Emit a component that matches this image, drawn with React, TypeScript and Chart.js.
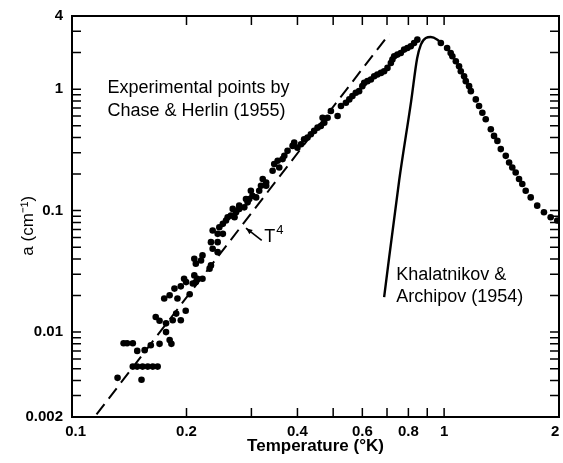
import React, { useEffect, useRef } from "react";
import { Chart, registerables } from "chart.js";

Chart.register(...registerables);

// Experimental points by Chase & Herlin (1955): temperature (°K) and attenuation (cm^-1)
const expT = [
  0.130, 0.151, 0.143, 0.147, 0.152, 0.157, 0.162, 0.167, 0.135, 0.138, 0.143,
  0.147, 0.154, 0.160, 0.169, 0.180, 0.182, 0.176, 0.176, 0.165, 0.169, 0.1875,
  0.1835, 0.193, 0.199, 0.174, 0.180, 0.1855, 0.193, 0.189, 0.204, 0.1995, 0.208,
  0.212, 0.197, 0.210, 0.214, 0.212, 0.219, 0.221, 0.210, 0.221, 0.231, 0.233,
  0.2355, 0.243, 0.233, 0.243, 0.2355, 0.243, 0.251, 0.2455, 0.251, 0.256, 0.2586,
  0.264, 0.270, 0.2726, 0.278, 0.287, 0.293, 0.296, 0.302, 0.309, 0.315, 0.3185,
  0.329, 0.267, 0.278, 0.290, 0.299, 0.322, 0.329, 0.3425, 0.346, 0.3535, 0.357,
  0.3646, 0.3685, 0.376, 0.388, 0.392, 0.400, 0.409, 0.417, 0.426, 0.435, 0.444,
  0.4535, 0.463, 0.473, 0.483, 0.468, 0.493, 0.514, 0.525, 0.5415, 0.553, 0.564,
  0.576, 0.588, 0.600, 0.607, 0.6195, 0.633, 0.646, 0.659, 0.674, 0.6875, 0.702,
  0.717, 0.724, 0.732, 0.747, 0.763, 0.779, 0.795, 0.812, 0.829, 0.846,
  0.980, 1.019, 1.042, 1.053, 1.076, 1.098, 1.110, 1.133, 1.145, 1.169, 1.182,
  1.219, 1.244, 1.270, 1.297, 1.339, 1.366, 1.395, 1.425, 1.470, 1.501, 1.531,
  1.564, 1.597, 1.630, 1.665, 1.718, 1.789, 1.866, 1.946, 2.028,
];
const expA = [
  0.0042, 0.00405, 0.0052, 0.0052, 0.0052, 0.0052, 0.0052, 0.0052, 0.0081, 0.0081, 0.0081,
  0.0070, 0.0071, 0.0078, 0.0080, 0.0086, 0.0080, 0.0100, 0.0118, 0.0133, 0.0124, 0.0142,
  0.0125, 0.0125, 0.0150, 0.0189, 0.0201, 0.0228, 0.0238, 0.0189, 0.0205, 0.0258, 0.0251,
  0.0258, 0.0275, 0.0293, 0.0275, 0.0366, 0.0389, 0.0428, 0.0402, 0.0275, 0.0333, 0.0354,
  0.0485, 0.0455, 0.055, 0.055, 0.0685, 0.0644, 0.0644, 0.0729, 0.0778, 0.0828, 0.0881,
  0.091, 0.0881, 0.0969, 0.1033, 0.1064, 0.117, 0.1247, 0.1327, 0.1285, 0.1459, 0.1603,
  0.1706, 0.1033, 0.1099, 0.1247, 0.1459, 0.182, 0.1603, 0.2128, 0.2415, 0.257, 0.2265,
  0.2654, 0.2825, 0.3104, 0.341, 0.363, 0.330, 0.352, 0.387, 0.399, 0.425, 0.453,
  0.482, 0.497, 0.530, 0.582, 0.582, 0.660, 0.601, 0.726, 0.772, 0.823, 0.876,
  0.933, 0.963, 1.058, 1.126, 1.163, 1.201, 1.278, 1.320, 1.360, 1.404, 1.495,
  1.643, 1.752, 1.865, 1.925, 1.984, 2.115, 2.181, 2.252, 2.396, 2.555,
  2.396, 2.181, 1.984, 1.865, 1.696, 1.543, 1.404, 1.278, 1.163, 1.058, 0.963,
  0.823, 0.726, 0.639, 0.565, 0.468, 0.412, 0.375, 0.321, 0.2825, 0.249, 0.2265,
  0.206, 0.182, 0.1656, 0.1459, 0.1285, 0.1099, 0.0969, 0.0881, 0.0828,
];

// Khalatnikov & Archipov (1954) theory curve
const theoryT = [0.6875, 0.755, 0.814, 0.845, 0.865, 0.892, 0.920, 0.959, 0.988];
const theoryA = [0.0194, 0.176, 0.797, 1.795, 2.325, 2.634, 2.684, 2.555, 2.36];

// T^4 dashed line end points
const t4T = [0.114, 0.71];
const t4A = [0.0021, 2.85];

// Axis ranges and ticks
const xRange = [0.0978, 2.05];
const yRange = [0.002, 4];
const xLabelValues = [0.1, 0.2, 0.4, 0.6, 0.8, 1, 2];
const yLabelValues = [0.002, 0.01, 0.1, 1, 4];
const xMarkValues = [0.2, 0.3, 0.4, 0.5, 0.6, 0.7, 0.8, 0.9, 1];
const yMarkValues = [
  0.003, 0.004, 0.005, 0.006, 0.007, 0.008, 0.009, 0.01,
  0.02, 0.03, 0.04, 0.05, 0.06, 0.07, 0.08, 0.09, 0.1,
  0.2, 0.3, 0.4, 0.5, 0.6, 0.7, 0.8, 0.9, 1, 2, 3,
];
const yTitle = "a (cm⁻¹)";
const yTitleAt = 0.075; // value on the y axis where the title is centred
const xTitle = "Temperature (°K)";

// Annotation anchors (data coordinates)
const noteExp = { t: 0.122, lines: ["Experimental points by", "Chase & Herlin (1955)"], a: [1.03, 0.66] };
const noteTheory = { t: 0.741, lines: ["Khalatnikov &", "Archipov (1954)"], a: [0.0293, 0.0194] };
const noteT4 = { t: 0.325, a: 0.0601, tipT: 0.290, tipA: 0.0716, tailT: 0.320, tailA: 0.0568 };

const FONT = '"Liberation Sans", Arial, sans-serif';

const framePlugin = {
  id: "frameAndNotes",
  afterDraw(chart: any) {
    const { ctx, chartArea } = chart;
    const xs = chart.scales.x;
    const ys = chart.scales.y;
    const { left, right, top, bottom } = chartArea;
    ctx.save();
    ctx.strokeStyle = "#000";
    ctx.lineWidth = 2;
    ctx.strokeRect(left, top, right - left, bottom - top);
    ctx.lineWidth = 1.5;
    const len = 9;
    ctx.beginPath();
    xMarkValues.forEach((v) => {
      const px = xs.getPixelForValue(v);
      ctx.moveTo(px, bottom);
      ctx.lineTo(px, bottom - len);
      ctx.moveTo(px, top);
      ctx.lineTo(px, top + len);
    });
    yMarkValues.forEach((v) => {
      const py = ys.getPixelForValue(v);
      ctx.moveTo(left, py);
      ctx.lineTo(left + len, py);
      ctx.moveTo(right, py);
      ctx.lineTo(right - len, py);
    });
    ctx.stroke();

    ctx.fillStyle = "#000";
    // y axis title (rotated)
    ctx.save();
    ctx.translate(28, ys.getPixelForValue(yTitleAt));
    ctx.rotate(-Math.PI / 2);
    ctx.textAlign = "center";
    ctx.textBaseline = "middle";
    ctx.font = `17px ${FONT}`;
    ctx.fillText(yTitle, 0, 0);
    ctx.restore();

    // text notes
    ctx.textAlign = "left";
    ctx.textBaseline = "middle";
    ctx.font = `18px ${FONT}`;
    [noteExp, noteTheory].forEach((n) => {
      const px = xs.getPixelForValue(n.t);
      n.lines.forEach((line, i) => {
        ctx.fillText(line, px, ys.getPixelForValue(n.a[i]));
      });
    });
    // T^4 label
    const tx = xs.getPixelForValue(noteT4.t);
    const ty = ys.getPixelForValue(noteT4.a);
    ctx.font = `18px ${FONT}`;
    ctx.fillText("T", tx, ty);
    const tw = ctx.measureText("T").width;
    ctx.font = `13px ${FONT}`;
    ctx.fillText("4", tx + tw + 1, ty - 7);
    // arrow
    const x1 = xs.getPixelForValue(noteT4.tailT);
    const y1 = ys.getPixelForValue(noteT4.tailA);
    const x2 = xs.getPixelForValue(noteT4.tipT);
    const y2 = ys.getPixelForValue(noteT4.tipA);
    ctx.lineWidth = 1.6;
    ctx.beginPath();
    ctx.moveTo(x1, y1);
    ctx.lineTo(x2, y2);
    ctx.stroke();
    const ang = Math.atan2(y2 - y1, x2 - x1);
    const ah = 7;
    ctx.beginPath();
    ctx.moveTo(x2, y2);
    ctx.lineTo(x2 - ah * Math.cos(ang - 0.4), y2 - ah * Math.sin(ang - 0.4));
    ctx.lineTo(x2 - ah * Math.cos(ang + 0.4), y2 - ah * Math.sin(ang + 0.4));
    ctx.closePath();
    ctx.fill();
    ctx.restore();
  },
};

export default function App() {
  const ref = useRef<HTMLCanvasElement | null>(null);
  useEffect(() => {
    if (!ref.current) return;
    const chart = new Chart(ref.current, {
      type: "scatter",
      data: {
        datasets: [
          {
            label: "Chase & Herlin (1955)",
            data: expT.map((t, i) => ({ x: t, y: expA[i] })),
            pointRadius: 3.3,
            pointBackgroundColor: "#000",
            pointBorderWidth: 0,
            showLine: false,
          },
          {
            label: "Khalatnikov & Archipov (1954)",
            data: theoryT.map((t, i) => ({ x: t, y: theoryA[i] })),
            showLine: true,
            pointRadius: 0,
            borderColor: "#000",
            borderWidth: 2.4,
            cubicInterpolationMode: "monotone",
          },
          {
            label: "T^4",
            data: t4T.map((t, i) => ({ x: t, y: t4A[i] })),
            showLine: true,
            pointRadius: 0,
            borderColor: "#000",
            borderWidth: 2,
            borderDash: [13, 7],
          },
        ],
      },
      options: {
        animation: false,
        responsive: false,
        events: [],
        layout: { padding: { top: 16, right: 4, left: 0, bottom: 0 } },
        plugins: { legend: { display: false }, tooltip: { enabled: false } },
        scales: {
          x: {
            type: "logarithmic",
            position: "bottom",
            min: xRange[0],
            max: xRange[1],
            grid: { display: false, drawTicks: false },
            border: { display: false },
            ticks: {
              autoSkip: false,
              maxRotation: 0,
              padding: 6,
              color: "#000",
              font: { family: FONT, size: 15, weight: "bold" },
              callback: (v: any) => String(v),
            },
            title: {
              display: true,
              text: xTitle,
              color: "#000",
              font: { family: FONT, size: 17, weight: "bold" },
              padding: { top: 0, bottom: 6 },
            },
            afterBuildTicks: (s: any) => {
              s.ticks = xLabelValues.map((v) => ({ value: v }));
            },
            afterFit: (s: any) => {
              s.height = 46;
              s.paddingLeft = 0;
              s.paddingRight = 0;
            },
          },
          y: {
            type: "logarithmic",
            position: "left",
            min: yRange[0],
            max: yRange[1],
            grid: { display: false, drawTicks: false },
            border: { display: false },
            ticks: {
              autoSkip: false,
              padding: 9,
              color: "#000",
              font: { family: FONT, size: 15, weight: "bold" },
              callback: (v: any) => String(v),
            },
            afterBuildTicks: (s: any) => {
              s.ticks = yLabelValues.map((v) => ({ value: v }));
            },
            afterFit: (s: any) => {
              s.width = 72;
              s.paddingTop = 0;
              s.paddingBottom = 0;
            },
          },
        },
      },
      plugins: [framePlugin],
    });
    return () => chart.destroy();
  }, []);
  return (
    <div style={{ position: "absolute", left: 0, top: 0, width: 563, height: 463, background: "#fff" }}>
      <canvas ref={ref} width={563} height={463} />
    </div>
  );
}
